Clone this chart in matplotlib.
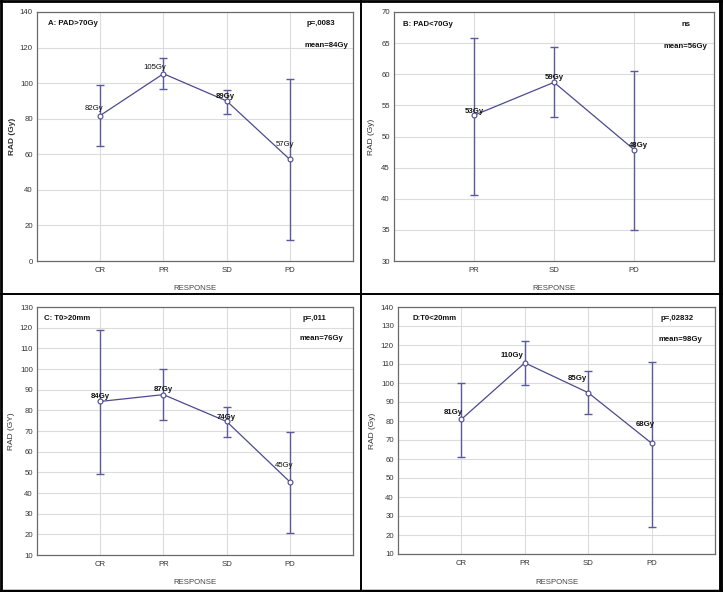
import matplotlib
matplotlib.use("Agg")
import matplotlib.pyplot as plt
from matplotlib.lines import Line2D

plt.rcParams['font.family'] = ['Liberation Sans', 'DejaVu Sans']

# ---- data ----
cats_A = ["CR", "PR", "SD", "PD"]
mean_A = [81.8, 105.3, 90.0, 57.1]
hi_A = [98.9, 114.1, 96.4, 102.2]
lo_A = [64.7, 96.6, 82.5, 11.8]
lab_A = ["82Gy", "105Gy", "89Gy", "57Gy"]

cats_B = ["PR", "SD", "PD"]
mean_B = [53.4, 58.7, 47.9]
hi_B = [65.9, 64.4, 60.5]
lo_B = [40.6, 53.1, 35.0]
lab_B = ["53Gy", "59Gy", "48Gy"]

cats_C = ["CR", "PR", "SD", "PD"]
mean_C = [84.3, 87.6, 74.6, 45.4]
hi_C = [119.0, 100.0, 81.8, 69.6]
lo_C = [49.3, 75.4, 67.3, 20.5]
lab_C = ["84Gy", "87Gy", "74Gy", "45Gy"]

cats_D = ["CR", "PR", "SD", "PD"]
mean_D = [80.9, 110.6, 94.9, 68.3]
hi_D = [100.1, 122.3, 106.1, 111.3]
lo_D = [61.3, 98.7, 83.7, 24.3]
lab_D = ["81Gy", "110Gy", "85Gy", "68Gy"]

panels = [
    dict(cats=cats_A, mean=mean_A, hi=hi_A, lo=lo_A, labels=lab_A,
         rect=[37, 12, 353, 261], ylim=(0, 140), ystep=20,
         ylabel="RAD (Gy)", ylbold=True, ylx=13,
         title="A: PAD>70Gy", tpos=(0.035, 0.952),
         ptxt="p=,0083", ppos=(0.943, 0.952),
         mtxt="mean=84Gy", mpos=(0.984, 0.867),
         off=[(-6, 7), (-9, 6), (-1, 4), (-5, 15)], bold=[False, False, True, False]),
    dict(cats=cats_B, mean=mean_B, hi=hi_B, lo=lo_B, labels=lab_B,
         rect=[394, 12, 714, 261], ylim=(30, 70), ystep=5,
         ylabel="RAD (Gy)", ylbold=False, ylx=372,
         title="B: PAD<70Gy", tpos=(0.027, 0.948),
         ptxt="ns", ppos=(0.925, 0.948),
         mtxt="mean=56Gy", mpos=(0.978, 0.86),
         off=[(0, 4), (0, 5), (4, 4)], bold=[True, True, True]),
    dict(cats=cats_C, mean=mean_C, hi=hi_C, lo=lo_C, labels=lab_C,
         rect=[37, 307, 353, 555], ylim=(10, 130), ystep=10,
         ylabel="RAD (GY)", ylbold=False, ylx=12,
         title="C: T0>20mm", tpos=(0.022, 0.952),
         ptxt="p=,011", ppos=(0.915, 0.952),
         mtxt="mean=76Gy", mpos=(0.968, 0.871),
         off=[(0, 5), (0, 5), (0, 4), (-6, 16)], bold=[True, True, True, False]),
    dict(cats=cats_D, mean=mean_D, hi=hi_D, lo=lo_D, labels=lab_D,
         rect=[398, 307, 715, 554], ylim=(10, 140), ystep=10,
         ylabel="RAD (Gy)", ylbold=False, ylx=372,
         title="D:T0<20mm", tpos=(0.047, 0.955),
         ptxt="p=,02832", ppos=(0.934, 0.955),
         mtxt="mean=98Gy", mpos=(0.959, 0.87),
         off=[(-8, 7), (-13, 7), (-11, 14), (-6, 19)], bold=[True, True, True, True]),
]

W, H = 723, 592
fig = plt.figure(figsize=(W / 100, H / 100), dpi=100)
fig.patch.set_facecolor("white")

line_c = "#4b4b8f"
err_c = "#5b5b9c"
px2pt = 72 / 100
FS = 5.6

for p in panels:
    x0, y0, x1, y1 = p["rect"]
    ax = fig.add_axes([x0 / W, 1 - y1 / H, (x1 - x0) / W, (y1 - y0) / H])
    n = len(p["cats"])
    xs = list(range(1, n + 1))
    yerr = [[m - l for m, l in zip(p["mean"], p["lo"])],
            [h - m for m, h in zip(p["mean"], p["hi"])]]
    ax.errorbar(xs, p["mean"], yerr=yerr, fmt="none", ecolor=err_c,
                elinewidth=1.0, capsize=2.6, capthick=1.0, zorder=3)
    ax.plot(xs, p["mean"], color=line_c, lw=0.9, marker="o", ms=3.5,
            mfc="white", mec=line_c, mew=0.8, zorder=4)
    for x, m, t, (dx, dy), b in zip(xs, p["mean"], p["labels"], p["off"], p["bold"]):
        ax.annotate(t, (x, m), xytext=(dx * px2pt, dy * px2pt), textcoords="offset points",
                    ha="center", va="center", fontsize=FS,
                    fontweight="bold" if b else "normal", color="#111111", zorder=5)
    ax.set_xlim(0, n + 1)
    ax.set_ylim(*p["ylim"])
    ax.set_xticks(xs)
    ax.set_xticklabels(p["cats"])
    yt = list(range(p["ylim"][0], p["ylim"][1] + 1, p["ystep"]))
    ax.set_yticks(yt)
    ax.grid(True, color="#dcdcdc", lw=0.8)
    ax.set_axisbelow(True)
    for s in ax.spines.values():
        s.set_color("#6a6a6a")
        s.set_linewidth(0.9)
    ax.tick_params(axis="both", labelsize=FS, colors="#333333", length=0, pad=3)
    ax.tick_params(axis="x", pad=4)
    ax.set_xlabel("RESPONSE", fontsize=FS, color="#444444")
    ax.xaxis.set_label_coords(0.5, -(24.5 / (y1 - y0)))
    ax.set_ylabel(p["ylabel"], fontsize=6.0, color="#333333",
                  fontweight="bold" if p["ylbold"] else "normal", va="center")
    ax.yaxis.set_label_coords((p["ylx"] - x0) / (x1 - x0), 0.5)
    ax.text(*p["tpos"], p["title"], transform=ax.transAxes, ha="left", va="center",
            fontsize=FS, fontweight="bold", color="#111111")
    ax.text(*p["ppos"], p["ptxt"], transform=ax.transAxes, ha="right", va="center",
            fontsize=FS, fontweight="bold", color="#111111")
    ax.text(*p["mpos"], p["mtxt"], transform=ax.transAxes, ha="right", va="center",
            fontsize=FS, fontweight="bold", color="#111111")

# panel frames
def fline(xa, ya, xb, yb, lw):
    fig.add_artist(Line2D([xa / W, xb / W], [1 - ya / H, 1 - yb / H],
                          color="black", lw=lw, transform=fig.transFigure))

fline(1, 1, 722, 1, 2.0)
fline(1, 591, 722, 591, 2.5)
fline(1, 1, 1, 591, 2.0)
fline(721, 1, 721, 591, 2.8)
fline(1, 294, 722, 294, 1.4)
fline(361, 1, 361, 591, 1.4)

fig.savefig("out.png", dpi=100, facecolor="white")
